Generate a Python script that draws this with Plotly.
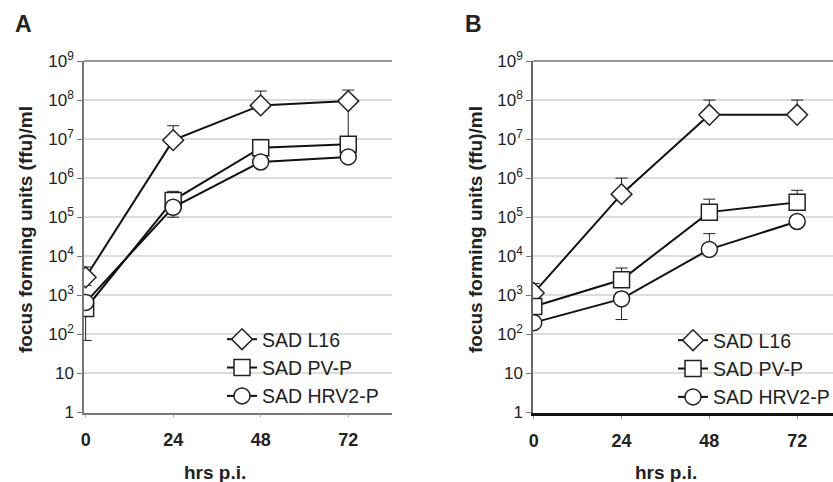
import plotly.graph_objects as go

hours = [0, 24, 48, 72]
series_names = ["SAD L16", "SAD PV-P", "SAD HRV2-P"]
symbols = ["diamond", "square", "circle"]

# Panel A values (ffu/ml)
a_l16 = [2.9e3, 9.4e6, 7.3e7, 9.4e7]
a_l16_hi = [5.3e3, 2.2e7, 1.7e8, 1.8e8]
a_l16_lo = [1.8e3, 9.4e6, 7.3e7, 1.0e7]
a_pvp = [4.6e2, 2.7e5, 6.0e6, 7.4e6]
a_pvp_hi = [4.6e2, 4.6e5, 6.0e6, 7.4e6]
a_pvp_lo = [70, 2.7e5, 6.0e6, 7.4e6]
a_hrv = [6.6e2, 1.8e5, 2.6e6, 3.5e6]
a_hrv_hi = [6.6e2, 1.8e5, 2.6e6, 3.5e6]
a_hrv_lo = [6.6e2, 1.0e5, 2.6e6, 3.5e6]

# Panel B values (ffu/ml)
b_l16 = [1.15e3, 3.9e5, 4.2e7, 4.2e7]
b_l16_hi = [2.0e3, 1.0e6, 1.0e8, 1.0e8]
b_l16_lo = [1.15e3, 3.9e5, 4.2e7, 4.2e7]
b_pvp = [5.2e2, 2.5e3, 1.35e5, 2.4e5]
b_pvp_hi = [5.2e2, 5.0e3, 2.9e5, 4.9e5]
b_pvp_lo = [5.2e2, 2.5e3, 1.35e5, 2.4e5]
b_hrv = [2.0e2, 8.1e2, 1.5e4, 7.8e4]
b_hrv_hi = [2.0e2, 1.2e3, 3.8e4, 7.8e4]
b_hrv_lo = [2.0e2, 2.4e2, 1.5e4, 7.8e4]

ytick_vals = [1, 10, 1e2, 1e3, 1e4, 1e5, 1e6, 1e7, 1e8, 1e9]
ytick_text = ["1", "10", "10<sup>2</sup>", "10<sup>3</sup>", "10<sup>4</sup>",
              "10<sup>5</sup>", "10<sup>6</sup>", "10<sup>7</sup>", "10<sup>8</sup>", "10<sup>9</sup>"]
xtick_text = ["0", "24", "48", "72"]

FONT = "Liberation Sans, Arial, sans-serif"
W, H = 833, 482

fig = go.Figure()

panels = [
    ("x", "y", "legend", [(a_l16, a_l16_hi, a_l16_lo), (a_pvp, a_pvp_hi, a_pvp_lo), (a_hrv, a_hrv_hi, a_hrv_lo)]),
    ("x2", "y2", "legend2", [(b_l16, b_l16_hi, b_l16_lo), (b_pvp, b_pvp_hi, b_pvp_lo), (b_hrv, b_hrv_hi, b_hrv_lo)]),
]

for xa, ya, lg, data in panels:
    for i, (vals, hi, lo) in enumerate(data):
        fig.add_trace(go.Scatter(
            x=hours, y=vals, mode="lines+markers", name=series_names[i],
            xaxis=xa, yaxis=ya, legend=lg, legendgroup=f"{lg}{i}",
            line=dict(color="#111111", width=2),
            marker=dict(symbol=symbols[i], size=16, color="white",
                        line=dict(color="#222222", width=1.5)),
            error_y=dict(type="data", symmetric=False,
                         array=[h - v for h, v in zip(hi, vals)],
                         arrayminus=[v - l for v, l in zip(vals, lo)],
                         color="#222222", thickness=1, width=6),
        ))

ydom = [1 - 412.5 / H, 1 - 61 / H]

common_y = dict(type="log", range=[0, 9], tickvals=ytick_vals, ticktext=ytick_text,
                showgrid=True, gridcolor="#dcdcdc", gridwidth=1.5, zeroline=False,
                ticks="outside", ticklen=5, tickcolor="#777777", mirror=False,
                showline=True, linewidth=1.5,
                tickfont=dict(family=FONT, size=17, color="#222222"))
common_x = dict(tickvals=hours, ticktext=xtick_text, showgrid=False, zeroline=False,
                ticks="outside", ticklen=3, tickcolor="#999999", mirror=False,
                ticklabelstandoff=7,
                tickfont=dict(family=FONT, size=18, color="#222222", weight="bold"))

legend_common = dict(xanchor="left", yanchor="top", bgcolor="rgba(0,0,0,0)", borderwidth=0,
                     tracegroupgap=0, traceorder="grouped", itemwidth=30,
                     font=dict(family=FONT, size=19.5, color="#222222"))

fig.update_layout(
    width=W, height=H,
    margin=dict(l=0, r=0, t=0, b=0, autoexpand=False),
    paper_bgcolor="white", plot_bgcolor="white",
    xaxis=dict(domain=[84 / W, 392 / W], range=[-0.45, 84], anchor="y",
               showline=True, linecolor="#777777", linewidth=1.5, **common_x),
    yaxis=dict(domain=ydom, anchor="x", linecolor="#777777", **common_y),
    xaxis2=dict(domain=[533 / W, 1.0], range=[-0.2, 81.8], anchor="y2",
                showline=True, linecolor="#111111", linewidth=3, **common_x),
    yaxis2=dict(domain=ydom, anchor="x2", linecolor="#666666", **common_y),
    legend=dict(x=222 / W, y=1 - 320 / H, **legend_common),
    legend2=dict(x=673 / W, y=1 - 321 / H, **legend_common),
    showlegend=True,
)

# top borders
for xd, yd in [("x domain", "y domain"), ("x2 domain", "y2 domain")]:
    fig.add_shape(type="line", xref=xd, yref=yd, x0=0, x1=1, y0=1, y1=1,
                  line=dict(color="#777777", width=1.5), layer="above")
# white panels behind the legends (hide gridlines there)
fig.add_shape(type="rect", xref="paper", yref="paper", x0=213 / W, x1=390 / W,
              y0=1 - 410 / H, y1=1 - 322 / H, fillcolor="white", line=dict(width=0), layer="between")
fig.add_shape(type="rect", xref="paper", yref="paper", x0=664 / W, x1=1.0,
              y0=1 - 410 / H, y1=1 - 323 / H, fillcolor="white", line=dict(width=0), layer="between")
# panel A has no right-hand frame
fig.add_shape(type="rect", xref="paper", yref="paper", x0=392.6 / W, x1=402 / W,
              y0=1 - 420 / H, y1=1 - 55 / H, fillcolor="white", line=dict(width=0), layer="above")

annotations = [
    dict(text="A", x=23 / W, y=1 - 24 / H, font=dict(size=23, weight="bold")),
    dict(text="B", x=473 / W, y=1 - 24 / H, font=dict(size=23, weight="bold")),
    dict(text="hrs p.i.", x=215 / W, y=1 - 472 / H, font=dict(size=19, weight="bold")),
    dict(text="hrs p.i.", x=666 / W, y=1 - 472 / H, font=dict(size=19, weight="bold")),
    dict(text="focus forming units (ffu)/ml", x=25 / W, y=1 - 230 / H, textangle=-90,
         font=dict(size=19, weight="bold")),
    dict(text="focus forming units (ffu)/ml", x=475 / W, y=1 - 230 / H, textangle=-90,
         font=dict(size=19, weight="bold")),
]
for a in annotations:
    a["font"].update(family=FONT, color="#222222")
    fig.add_annotation(xref="paper", yref="paper", showarrow=False,
                       xanchor="center", yanchor="middle", **a)

fig.write_html("out.html", config={"displayModeBar": False},
               post_script="document.body.style.margin='0';document.body.style.overflow='hidden';")
